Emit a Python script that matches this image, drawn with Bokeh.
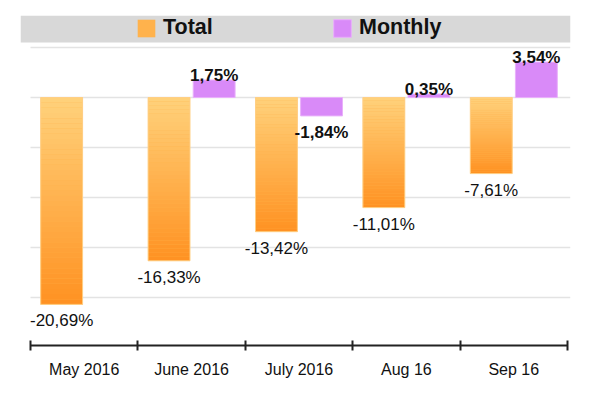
import numpy as np
from bokeh.plotting import figure
from bokeh.models import (ColumnDataSource, LinearAxis, FixedTicker, Legend, Range1d)
from bokeh.core.properties import value
from bokeh.embed import file_html
from bokeh.resources import INLINE

# ---- data ----
categories = ["May 2016", "June 2016", "July 2016", "Aug 16", "Sep 16"]
total = [-20.69, -16.33, -13.42, -11.01, -7.61]
monthly = [None, 1.75, -1.84, 0.35, 3.54]
grid_ticks = [5, 0, -5, -10, -15, -20]

FONT = "Liberation Sans"
TOP_C = np.array([0xFF, 0xD2, 0x7C])
BOT_C = np.array([0xFF, 0x92, 0x22])

def fmt(v):
    return f"{v:.2f}".replace(".", ",") + "%"

n = len(categories)
centers = np.arange(n) + 0.5
X_START, X_END = -10 / 107.4, n + 3 / 107.4
Y_START, Y_END = -24.8, 8.2
BAND_BOTTOM = 5.5
OFF, W = 0.21, 0.39

p = figure(width=592, height=387, output_backend="svg", toolbar_location=None,
           x_axis_type=None, y_axis_type=None,
           x_range=Range1d(X_START, X_END), y_range=Range1d(Y_START, Y_END),
           min_border_left=20, min_border_right=22, min_border_top=15,
           min_border_bottom=42)
p.outline_line_color = None
p.background_fill_color = "white"

# legend band
p.quad(left=[X_START], right=[X_END], bottom=[BAND_BOTTOM], top=[Y_END],
       fill_color="#d8d8d8", line_color=None)

# grid lines
p.segment(x0=[0] * len(grid_ticks), x1=[X_END] * len(grid_ticks),
          y0=grid_ticks, y1=grid_ticks, line_color="#e3e3e3", line_width=1.5)

# ---- Total bars (gradient) ----
tx = centers - OFF
base_t = p.vbar(x=tx, top=total, bottom=0, width=W,
                fill_color="#ffb24c", line_color=None)
NS = 40
sx, sb, st, sc = [], [], [], []
for xi, v in zip(tx, total):
    edges = np.linspace(0, v, NS + 1)
    for k in range(NS):
        f = (k + 0.5) / NS
        c = (TOP_C * (1 - f) + BOT_C * f).astype(int)
        sx.append(xi)
        st.append(edges[k])
        sb.append(edges[k + 1])
        sc.append("#%02x%02x%02x" % tuple(c))
p.vbar(x=sx, top=st, bottom=sb, width=W, fill_color=sc, line_color=None)
p.vbar(x=tx, top=total, bottom=0, width=W, fill_color=None,
       line_color="#ffcf85", line_width=1)

# ---- Monthly bars ----
mx = [c + OFF for c, m in zip(centers, monthly) if m is not None]
mv = [m for m in monthly if m is not None]
base_m = p.vbar(x=mx, top=mv, bottom=0, width=W,
                fill_color="#d98af8", line_color="#e9b0fb", line_width=1)

# ---- labels ----
p.text(x=tx, y=total, text=[fmt(v) for v in total], text_align="center",
       text_baseline="top", y_offset=7, text_font=value(FONT),
       text_font_size="17px", text_color="#111111")
pos = [(x, v) for x, v in zip(mx, mv) if v >= 0]
neg = [(x, v) for x, v in zip(mx, mv) if v < 0]
p.text(x=[a for a, _ in pos], y=[b for _, b in pos], text=[fmt(b) for _, b in pos],
       text_align="center", text_baseline="alphabetic", y_offset=-5,
       text_font=value(FONT), text_font_size="17px", text_font_style="bold",
       text_color="#111111")
p.text(x=[a for a, _ in neg], y=[b for _, b in neg], text=[fmt(b) for _, b in neg],
       text_align="center", text_baseline="top", y_offset=7,
       text_font=value(FONT), text_font_size="17px", text_font_style="bold",
       text_color="#111111")

# ---- x axis ----
xaxis = LinearAxis(ticker=FixedTicker(ticks=list(centers), minor_ticks=list(range(n + 1))),
                   bounds=(0, n))
xaxis.major_label_overrides = {float(c): lab for c, lab in zip(centers, categories)}
xaxis.major_tick_line_color = None
xaxis.major_tick_in = 0
xaxis.major_tick_out = 0
xaxis.minor_tick_in = 5
xaxis.minor_tick_out = 5
xaxis.minor_tick_line_color = "#222222"
xaxis.minor_tick_line_width = 2
xaxis.axis_line_color = "#222222"
xaxis.axis_line_width = 2
xaxis.major_label_standoff = 10
xaxis.major_label_text_font = FONT
xaxis.major_label_text_font_size = "16px"
xaxis.major_label_text_color = "#111111"
p.add_layout(xaxis, "below")

# ---- legend ----
legend = Legend(items=[("Total", [base_t]), ("Monthly", [base_m])],
                orientation="horizontal", location=(115, 305),
                background_fill_alpha=0, border_line_color=None,
                padding=0, margin=0, spacing=78,
                glyph_width=22, glyph_height=22, label_height=22, label_width=90,
                label_standoff=6, label_text_font=FONT, label_text_font_size="21.5px",
                label_text_font_style="bold", label_text_color="#111111")
p.add_layout(legend)

open("out.html", "w").write(file_html(p, INLINE))
